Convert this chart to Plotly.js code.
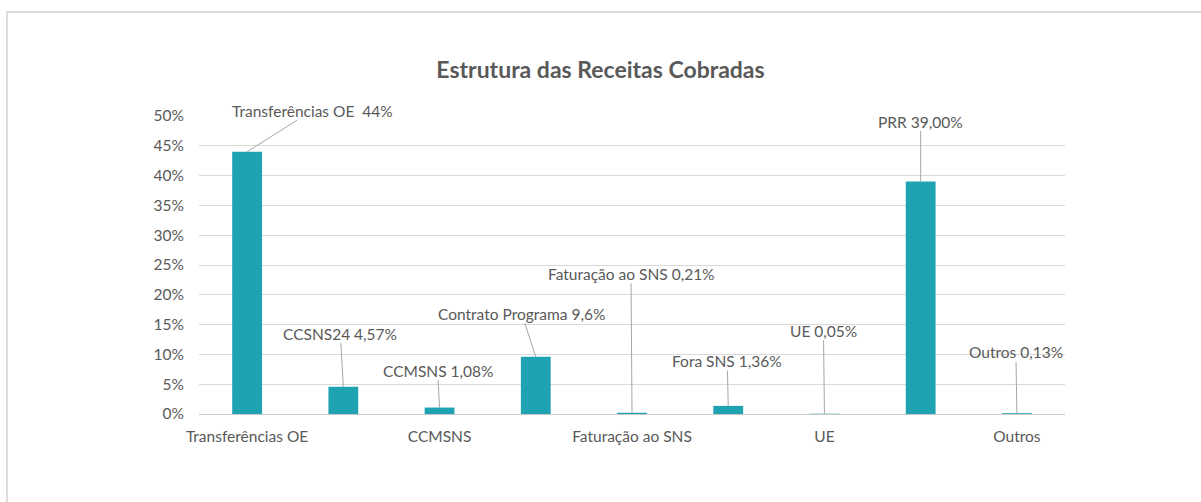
<!DOCTYPE html>
<html>
<head>
<meta charset="utf-8">
<script src="https://cdn.plot.ly/plotly-3.0.1.min.js"></script>
<style>
  html, body { margin: 0; padding: 0; background: #fff; overflow: hidden; }
  #frame { position: absolute; left: 6px; top: 11px; width: 1300px; height: 600px;
           border-top: 2px solid #dcdcdc; border-left: 2px solid #dcdcdc; pointer-events: none; }
  #chart { width: 1201px; height: 502px; }
</style>
</head>
<body>
<div id="chart"></div>
<div id="frame"></div>
<script>
const categories = ["Transferências OE", "CCSNS24", "CCMSNS", "Contrato Programa", "Faturação ao SNS", "Fora SNS", "UE", "PRR", "Outros"];
const values = [44, 4.57, 1.08, 9.6, 0.21, 1.36, 0.05, 39.0, 0.13];
const labelTexts = ["Transferências OE  44%", "CCSNS24 4,57%", "CCMSNS 1,08%", "Contrato Programa 9,6%", "Faturação ao SNS 0,21%", "Fora SNS 1,36%", "UE 0,05%", "PRR 39,00%", "Outros 0,13%"];
const shownTicks = ["Transferências OE", "CCMSNS", "Faturação ao SNS", "UE", "Outros"];
const yTicks = [0, 5, 10, 15, 20, 25, 30, 35, 40, 45, 50];

// label offsets (pixels) of each data label from its bar top
const labelOffsets = [[65, -41], [-3, -53], [-2, -37], [-14, -43], [-1, -139], [-1, -45], [-1, -83], [0, -60], [-1, -61]];

const textColor = "#595959";
const fontFam = "Lato, 'Open Sans', sans-serif";

const trace = {
  type: "bar",
  x: categories,
  y: values,
  marker: { color: "#1fa3b2" },
  hoverinfo: "x+y"
};

const annotations = categories.map((c, i) => ({
  x: c, y: values[i], xref: "x", yref: "y",
  text: labelTexts[i],
  showarrow: true, arrowhead: 0, arrowwidth: 1, arrowcolor: "#a6a6a6",
  standoff: 0, startstandoff: 0,
  ax: labelOffsets[i][0], ay: labelOffsets[i][1],
  font: { family: fontFam, size: 15.5, color: textColor },
  borderpad: 0
}));

const layout = {
  width: 1201, height: 502,
  margin: { l: 199, r: 136, t: 116, b: 88 },
  paper_bgcolor: "rgba(0,0,0,0)",
  plot_bgcolor: "#fff",
  title: {
    text: "<b>Estrutura das Receitas Cobradas</b>",
    font: { family: fontFam, size: 23, color: textColor },
    x: 0.5, xanchor: "center", y: 0.86, yanchor: "middle"
  },
  bargap: 0.69,
  showlegend: false,
  xaxis: {
    type: "category",
    tickvals: shownTicks,
    ticktext: shownTicks,
    tickfont: { family: fontFam, size: 15.5, color: textColor },
    showgrid: false,
    showline: false,
    ticks: "",
    ticklabelstandoff: 11,
    fixedrange: true
  },
  yaxis: {
    range: [0, 50],
    tickvals: yTicks,
    ticktext: yTicks.map(v => v + "%"),
    tickfont: { family: fontFam, size: 15.5, color: textColor },
    gridcolor: "#d9d9d9",
    gridwidth: 1,
    zeroline: true,
    zerolinecolor: "#c8c8c8",
    zerolinewidth: 1,
    ticklabelstandoff: 14,
    fixedrange: true
  },
  annotations: annotations
};

Plotly.newPlot("chart", [trace], layout, { displayModeBar: false, staticPlot: true });
</script>
</body>
</html>
